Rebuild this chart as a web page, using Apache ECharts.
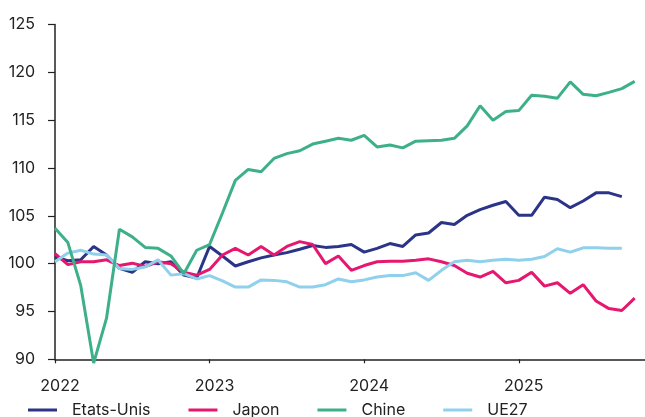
<!DOCTYPE html>
<html>
<head>
<meta charset="utf-8">
<script src="https://cdn.jsdelivr.net/npm/echarts@6/dist/echarts.min.js"></script>
<style>
  html, body { margin: 0; padding: 0; background: #fff; }
  #chart { width: 645px; height: 417px; }
</style>
</head>
<body>
<div id="chart"></div>
<script>
// indices mensuels, janvier 2022 = mois 0
var startYear = 2022;
var yearTicks = [2022, 2023, 2024, 2025];

var etatsUnis = [100.7, 100.3, 100.4, 101.8, 100.9, 99.5, 99.1, 100.2, 100.0, 100.2, 98.8, 98.5,
  101.8, 100.8, 99.75, 100.2, 100.6, 100.9, 101.15, 101.5, 101.9, 101.7, 101.8, 102.0,
  101.2, 101.6, 102.1, 101.8, 103.0, 103.2, 104.3, 104.1, 105.05, 105.65, 106.1, 106.5,
  105.05, 105.05, 106.95, 106.7, 105.85, 106.55, 107.4, 107.4, 107.0];

var japon = [101.05, 99.9, 100.2, 100.2, 100.4, 99.8, 100.05, 99.7, 100.2, 100.0, 99.1, 98.8,
  99.4, 100.9, 101.6, 100.9, 101.8, 100.9, 101.8, 102.3, 102.0, 100.0, 100.8, 99.3,
  99.8, 100.2, 100.25, 100.25, 100.35, 100.5, 100.2, 99.8, 99.0, 98.6, 99.2, 98.0,
  98.25, 99.1, 97.65, 98.0, 96.9, 97.8, 96.1, 95.3, 95.1, 96.4];

var chine = [103.7, 102.2, 97.7, 89.6, 94.3, 103.6, 102.8, 101.7, 101.6, 100.8, 98.95, 101.4,
  102.0, 105.3, 108.7, 109.85, 109.6, 111.0, 111.5, 111.8, 112.5, 112.8, 113.1, 112.9,
  113.4, 112.2, 112.4, 112.1, 112.8, 112.85, 112.9, 113.1, 114.4, 116.5, 115.0, 115.9,
  116.0, 117.6, 117.5, 117.3, 119.0, 117.7, 117.55, 117.9, 118.3, 119.05];

var ue27 = [100.2, 101.1, 101.4, 101.0, 100.9, 99.5, 99.4, 99.65, 100.4, 98.8, 98.95, 98.4,
  98.75, 98.2, 97.55, 97.55, 98.3, 98.25, 98.1, 97.55, 97.55, 97.8, 98.4, 98.1,
  98.3, 98.6, 98.75, 98.75, 99.05, 98.25, 99.3, 100.2, 100.35, 100.2, 100.35, 100.45,
  100.35, 100.45, 100.75, 101.55, 101.2, 101.65, 101.65, 101.6, 101.6];

var noms = ['Etats-Unis', 'Japon', 'Chine', 'UE27'];
var couleurs = ['#2b3486', '#e6176f', '#3db08a', '#8fd0ec'];

function toPoints(arr) {
  return arr.map(function (v, i) { return [i, v]; });
}

var myChart = echarts.init(document.getElementById('chart'));
var font = 'Inter, "Noto Sans", sans-serif';
var textColor = '#222';

var option = {
  animation: false,
  textStyle: { fontFamily: font },
  grid: { left: 55, right: 0, top: 24.5, bottom: 57.7, containLabel: false },
  legend: {
    data: noms,
    left: 28,
    top: 402,
    padding: 0,
    itemGap: 38,
    itemWidth: 29,
    itemHeight: 3,
    icon: 'rect',
    textStyle: { fontSize: 16, color: textColor, fontFamily: font, lineHeight: 16, padding: [0, 0, 0, 10] }
  },
  xAxis: {
    type: 'value',
    min: 0,
    max: 45.8,
    interval: 12,
    splitLine: { show: false },
    axisLine: { lineStyle: { color: '#222', width: 1.5 } },
    axisTick: { length: 4, lineStyle: { color: '#222', width: 1.2 } },
    axisLabel: {
      color: textColor, fontSize: 16, fontFamily: font, margin: 19,
      padding: [0, 0, 0, 10],
      showMaxLabel: false,
      formatter: function (v) {
        if (v % 12 !== 0) return '';
        var y = startYear + v / 12;
        return yearTicks.indexOf(y) >= 0 ? String(y) : '';
      }
    }
  },
  yAxis: {
    type: 'value',
    min: 90,
    max: 125,
    interval: 5,
    splitLine: { show: false },
    axisLine: { show: true, lineStyle: { color: '#222', width: 1.5 } },
    axisTick: { show: true, length: 7, lineStyle: { color: '#222', width: 1.2 } },
    axisLabel: { color: textColor, fontSize: 16, fontFamily: font, margin: 20 }
  },
  series: [etatsUnis, japon, chine, ue27].map(function (arr, k) {
    return {
      name: noms[k],
      type: 'line',
      data: toPoints(arr),
      showSymbol: false,
      symbol: 'none',
      clip: false,
      color: couleurs[k],
      lineStyle: { width: 3, color: couleurs[k] },
      z: k === 2 ? 3 : 2
    };
  })
};

myChart.setOption(option);
</script>
</body>
</html>
